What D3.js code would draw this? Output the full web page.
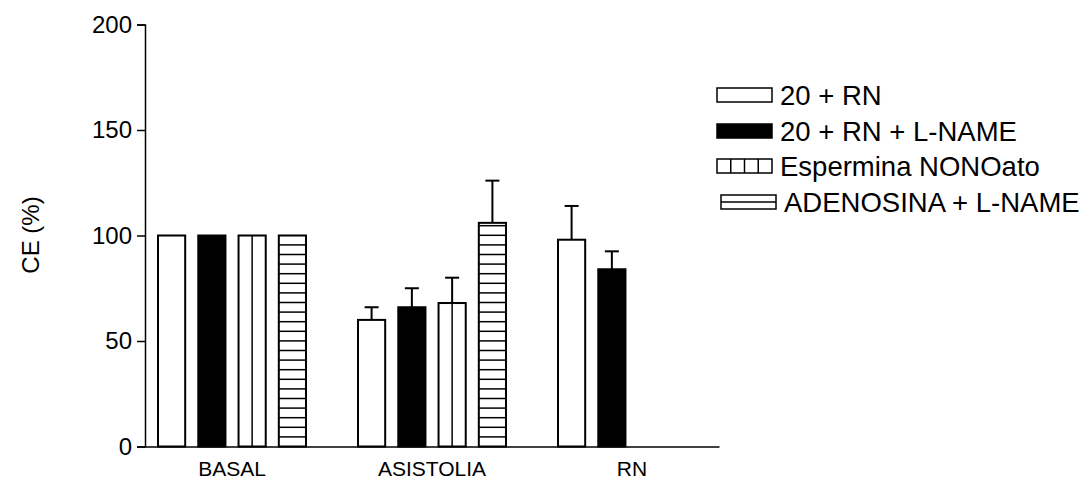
<!DOCTYPE html>
<html>
<head>
<meta charset="utf-8">
<script src="https://cdn.jsdelivr.net/npm/d3@7/dist/d3.min.js"></script>
<style>
  body { margin: 0; background: #fff; }
  svg { display: block; font-family: Arial, "Liberation Sans", sans-serif; }
</style>
</head>
<body>
<svg id="chart" width="1083" height="486"></svg>
<script>
// data
const categories = ["BASAL", "ASISTOLIA", "RN"];
const seriesNames = ["20 + RN", "20 + RN + L-NAME", "Espermina NONOato", "ADENOSINA + L-NAME"];
const fills = ["white", "black", "vlines", "hlines"];
const means = [
  [100, 60, 98],
  [100, 66, 84],
  [100, 68, null],
  [100, 106, null]
];
const errs = [
  [0, 6, 16],
  [0, 9, 8.5],
  [0, 12, null],
  [0, 20, null]
];
const yTicks = [0, 50, 100, 150, 200];

const svg = d3.select("#chart");

const x0 = d3.scaleBand()
  .domain(categories)
  .range([145, 719])
  .paddingInner(0.26)
  .paddingOuter(0.065);

const x1 = d3.scaleBand()
  .domain(seriesNames)
  .range([0, x0.bandwidth()])
  .paddingInner(0.325)
  .paddingOuter(0);

const y = d3.scaleLinear().domain([0, 200]).range([446.5, 24.5]);

// flatten to bar records
const bars = [];
seriesNames.forEach((s, si) => {
  categories.forEach((c, ci) => {
    if (means[si][ci] == null) return;
    bars.push({ s, si, c, v: means[si][ci], e: errs[si][ci] });
  });
});

// axes
const yAxis = d3.axisLeft(y).tickValues(yTicks).tickSize(8).tickPadding(5);
const gy = svg.append("g").attr("transform", "translate(145,0)").call(yAxis);
gy.select(".domain").attr("stroke", "#000").attr("stroke-width", 1.5);
gy.selectAll(".tick line").attr("stroke", "#000").attr("stroke-width", 1.5);
gy.selectAll(".tick text").attr("font-size", 24).attr("fill", "#000")
  .attr("font-family", "Arial, 'Liberation Sans', sans-serif");

const xAxis = d3.axisBottom(x0).tickSize(0).tickPadding(15);
const gx = svg.append("g").attr("transform", `translate(0,${y(0)})`).call(xAxis);
gx.select(".domain").attr("stroke", "#000").attr("stroke-width", 1.5);
gx.selectAll(".tick text").attr("font-size", 21).attr("fill", "#000")
  .attr("font-family", "Arial, 'Liberation Sans', sans-serif");

svg.append("text")
  .attr("transform", "translate(39,235) rotate(-90)")
  .attr("text-anchor", "middle")
  .attr("font-size", 24)
  .text("CE (%)");

// stripe helpers
function drawStripes(g, bx, by, bw, bh, kind, vStep, hStep) {
  if (kind === "vlines") {
    for (let xx = bx + vStep; xx < bx + bw - 2; xx += vStep) {
      g.append("line").attr("x1", xx).attr("x2", xx).attr("y1", by).attr("y2", by + bh)
        .attr("stroke", "#000").attr("stroke-width", 1.5);
    }
  } else if (kind === "hlines") {
    for (let yy = by + bh - hStep; yy > by + 2; yy -= hStep) {
      g.append("line").attr("x1", bx).attr("x2", bx + bw).attr("y1", yy).attr("y2", yy)
        .attr("stroke", "#000").attr("stroke-width", 1.5);
    }
  }
}

// error bars (drawn behind bars)
const gErr = svg.append("g");
bars.filter(d => d.e > 0).forEach(d => {
  const cx = x0(d.c) + x1(d.s) + x1.bandwidth() / 2;
  gErr.append("line").attr("x1", cx).attr("x2", cx)
    .attr("y1", y(d.v)).attr("y2", y(d.v + d.e))
    .attr("stroke", "#000").attr("stroke-width", 2);
  gErr.append("line").attr("x1", cx - 7).attr("x2", cx + 7)
    .attr("y1", y(d.v + d.e)).attr("y2", y(d.v + d.e))
    .attr("stroke", "#000").attr("stroke-width", 2);
});

// bars
const gBars = svg.append("g");
bars.forEach(d => {
  const bx = x0(d.c) + x1(d.s);
  const bw = x1.bandwidth();
  const by = y(d.v);
  const bh = y(0) - y(d.v);
  const kind = fills[d.si];
  const g = gBars.append("g");
  g.append("rect").attr("x", bx).attr("y", by).attr("width", bw).attr("height", bh)
    .attr("fill", kind === "black" ? "#000" : "#fff");
  drawStripes(g, bx, by, bw, bh, kind, bw / 2, 9.6);
  g.append("rect").attr("x", bx).attr("y", by).attr("width", bw).attr("height", bh)
    .attr("fill", "none").attr("stroke", "#000").attr("stroke-width", 2);
});

// legend
const legendY = [95, 131, 166, 202];
const legendDx = [0, 0, 0, 4];
const gLeg = svg.append("g");
seriesNames.forEach((s, i) => {
  const lx = 717 + legendDx[i], lw = 55, lh = 14, ly = legendY[i] - lh / 2;
  const kind = fills[i];
  const g = gLeg.append("g");
  g.append("rect").attr("x", lx).attr("y", ly).attr("width", lw).attr("height", lh)
    .attr("fill", kind === "black" ? "#000" : "#fff");
  drawStripes(g, lx, ly, lw, lh, kind, lw / 4, lh / 2);
  g.append("rect").attr("x", lx).attr("y", ly).attr("width", lw).attr("height", lh)
    .attr("fill", "none").attr("stroke", "#000").attr("stroke-width", 1.5);
  g.append("text").attr("x", lx + lw + 8).attr("y", legendY[i])
    .attr("dy", "0.35em").attr("font-size", 27.5).text(s);
});
</script>
</body>
</html>
